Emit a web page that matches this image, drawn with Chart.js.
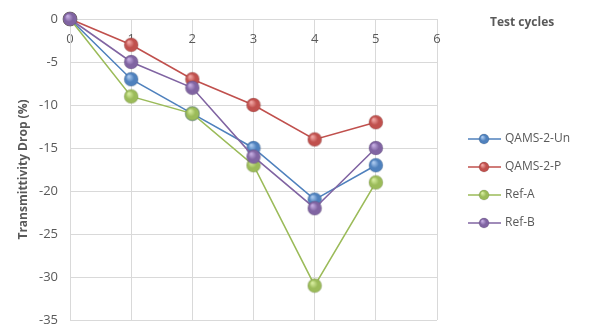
<!DOCTYPE html>
<html>
<head>
<meta charset="utf-8">
<script src="https://cdn.jsdelivr.net/npm/chart.js@4"></script>
<style>
    html, body { margin: 0; padding: 0; background: #fff; }
    #wrap { width: 613px; height: 336px; }
</style>
</head>
<body>
<div id="wrap"><canvas id="dropChart" width="613" height="336"></canvas></div>
<script>
// Chart data
const cycles = [0, 1, 2, 3, 4, 5];
const qamsUn = [0, -7, -11, -15, -21, -17];
const qamsP = [0, -3, -7, -10, -14, -12];
const refA = [0, -9, -11, -17, -31, -19];
const refB = [0, -5, -8, -16, -22, -15];
const seriesNames = ['QAMS-2-Un', 'QAMS-2-P', 'Ref-A', 'Ref-B'];
const seriesColors = ['#4f81bd', '#c0504d', '#9bbb59', '#8064a2'];
const seriesLight = ['#a9c8ee', '#f0a5a3', '#d6ec9e', '#c3abe0'];

const FONT = '"Open Sans", "Liberation Sans", sans-serif';
const TEXT = '#595959';

// Glossy ball marker
function makeBall(color, light, r) {
    const c = document.createElement('canvas');
    c.width = c.height = r * 2 + 2;
    const g = c.getContext('2d');
    const cx = r + 1, cy = r + 1;
    const grad = g.createRadialGradient(cx - r * 0.35, cy - r * 0.4, r * 0.1, cx, cy, r);
    grad.addColorStop(0, light);
    grad.addColorStop(0.55, color);
    grad.addColorStop(1, color);
    g.beginPath();
    g.arc(cx, cy, r, 0, Math.PI * 2);
    g.fillStyle = grad;
    g.fill();
    g.strokeStyle = 'rgba(0,0,0,0.15)';
    g.lineWidth = 0.8;
    g.stroke();
    return c;
}

const balls = seriesColors.map((c, i) => makeBall(c, seriesLight[i], 7));
const legendBalls = seriesColors.map((c, i) => makeBall(c, seriesLight[i], 5));

const allSeries = [qamsUn, qamsP, refA, refB];
const datasets = allSeries.map((vals, i) => ({
    label: seriesNames[i],
    data: cycles.map((c, j) => ({ x: c, y: vals[j] })),
    borderColor: seriesColors[i],
    borderWidth: 1.6,
    pointStyle: balls[i],
    pointRadius: 7,
    clip: false,
    order: 3 - i, // later series drawn on top, like Excel
    tension: 0
}));

const sidePlugin = {
    id: 'sidePlugin',
    afterDraw(chart) {
        const ctx = chart.ctx;
        ctx.save();
        ctx.fillStyle = TEXT;
        ctx.font = 'bold 12px ' + FONT;
        ctx.textBaseline = 'middle';
        ctx.textAlign = 'left';
        ctx.fillText('Test cycles', 490, 23);

        ctx.font = '12px ' + FONT;
        chart.data.datasets.forEach((ds, i) => {
            const y = 139 + i * 28;
            ctx.strokeStyle = ds.borderColor;
            ctx.lineWidth = 1.6;
            ctx.beginPath();
            ctx.moveTo(468, y);
            ctx.lineTo(501, y);
            ctx.stroke();
            const b = legendBalls[i];
            ctx.drawImage(b, 484 - b.width / 2, y - b.height / 2);
            ctx.fillStyle = TEXT;
            ctx.fillText(ds.label, 505, y);
        });
        ctx.restore();
    }
};

new Chart(document.getElementById('dropChart').getContext('2d'), {
    type: 'line',
    data: { datasets: datasets },
    options: {
        responsive: false,
        animation: false,
        layout: { padding: { left: 12, right: 176, top: 19, bottom: 16 } },
        plugins: {
            legend: { display: false },
            tooltip: { enabled: false }
        },
        scales: {
            x: {
                type: 'linear',
                min: 0,
                max: 6,
                position: { y: 0 },
                grid: { color: '#d9d9d9', drawTicks: false },
                border: { display: false },
                ticks: { stepSize: 1, color: TEXT, padding: 12, font: { size: 13, family: FONT } },
                afterFit(scale) { scale.height = 0; }
            },
            y: {
                min: -35,
                max: 0,
                grid: { color: '#d9d9d9', drawTicks: false },
                border: { color: '#d9d9d9' },
                ticks: { stepSize: 5, color: TEXT, padding: 12, font: { size: 13, family: FONT } },
                title: { display: true, text: 'Transmittivity Drop (%)', color: TEXT, font: { size: 12, weight: 'bold', family: FONT } },
                afterFit(scale) {
                    scale.width = 58;
                    scale.paddingTop = 0;
                    scale.paddingBottom = 0;
                }
            }
        }
    },
    plugins: [sidePlugin]
});
</script>
</body>
</html>
